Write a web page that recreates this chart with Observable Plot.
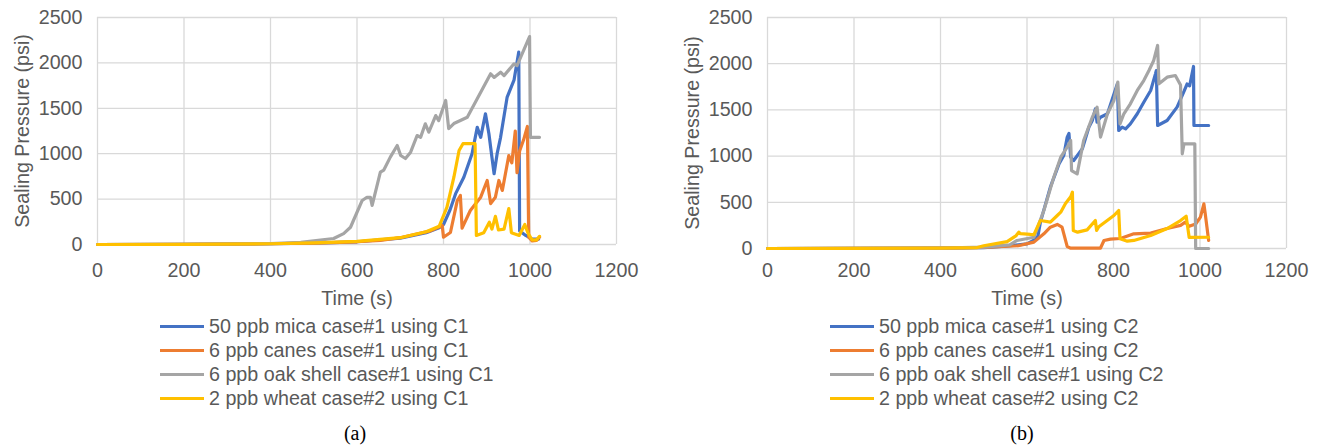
<!DOCTYPE html>
<html><head><meta charset="utf-8">
<script src="https://cdn.jsdelivr.net/npm/d3@7"></script>
<script src="https://cdn.jsdelivr.net/npm/@observablehq/plot@0.6"></script>
<style>
body{margin:0;background:#fff;width:1322px;height:447px;overflow:hidden;position:relative;font-family:"Liberation Sans",Arial,sans-serif;color:#595959}
.panel{position:absolute;top:0}
.row{position:absolute;height:24px;line-height:24px;font-size:19.7px;white-space:nowrap;color:#595959}
.swatch{position:absolute;height:3px;width:44px}
.cap{position:absolute;font-family:"Liberation Serif","Times New Roman",serif;font-size:20px;color:#000;transform:translate(-50%,-50%)}
</style></head><body>
<div id="a" class="panel" style="left:0px"></div>
<div id="b" class="panel" style="left:661px"></div>
<script>
// ---- tick values ----
const xTicks = [0, 200, 400, 600, 800, 1000, 1200];
const yTicks = [0, 500, 1000, 1500, 2000, 2500];

// ---- series names / colours ----
const seriesMaterials = ["50 ppb mica case#1", "6 ppb canes case#1", "6 ppb oak shell case#1", "2 ppb wheat case#2"];
const seriesColors = ["#4472C4", "#ED7D31", "#A5A5A5", "#FFC000"];

// ---- panel (a): C1, [time s, pressure psi] ----
const micaC1 = [[0,0],[200,2],[400,8],[500,15],[600,30],[700,70],[760,130],[790,185],[800,220],[815,380],[828,560],[847,740],[866,1000],[878,1290],[886,1180],[897,1440],[905,1220],[912,960],[917,780],[924,1000],[932,1180],[947,1620],[963,1810],[974,2120],[976,150],[990,100],[1005,60],[1020,60]];
const canesC1 = [[0,0],[200,2],[400,8],[500,15],[600,30],[654,44],[700,75],[770,150],[797,210],[800,80],[816,132],[832,485],[839,540],[843,180],[862,374],[886,521],[901,705],[909,451],[920,521],[928,705],[936,595],[951,980],[958,900],[966,1250],[970,790],[976,1030],[985,1150],[994,1300],[997,80],[1005,40],[1015,45],[1022,80]];
const oakC1 = [[0,0],[200,3],[400,10],[470,25],[546,66],[569,120],[585,190],[612,485],[623,520],[631,520],[635,430],[654,796],[662,820],[677,962],[693,1090],[701,980],[712,947],[724,1017],[739,1200],[747,1180],[758,1329],[766,1237],[782,1420],[789,1365],[805,1586],[812,1277],[824,1332],[839,1366],[855,1402],[909,1880],[917,1840],[932,1898],[940,1860],[963,1990],[970,1970],[999,2290],[1001,1180],[1022,1180]];
const wheatC1 = [[0,0],[200,2],[400,8],[500,18],[600,35],[700,75],[760,140],[790,200],[808,411],[824,741],[836,1035],[845,1110],[873,1110],[876,100],[893,130],[906,245],[912,170],[920,310],[927,160],[940,170],[951,395],[957,130],[975,100],[988,220],[995,130],[1005,50],[1015,50],[1022,90]];

// ---- panel (b): C2, [time s, pressure psi] ----
const micaC2 = [[0,0],[200,1],[400,4],[500,10],[550,25],[600,50],[616,90],[625,130],[631,285],[654,664],[674,916],[685,1006],[693,1205],[697,1245],[701,988],[708,952],[728,1079],[743,1313],[751,1385],[758,1512],[762,1367],[770,1421],[786,1458],[809,1782],[812,1277],[820,1313],[828,1295],[839,1349],[855,1458],[870,1583],[886,1710],[897,1890],[899,1926],[902,1331],[924,1385],[947,1530],[963,1700],[970,1780],[976,1760],[985,1970],[986,1331],[1020,1331]];
const canesC2 = [[0,0],[200,1],[400,4],[500,12],[580,30],[616,69],[639,159],[654,231],[670,260],[681,231],[693,20],[700,5],[770,5],[778,87],[793,101],[816,108],[847,159],[886,166],[924,216],[955,250],[966,285],[975,240],[990,265],[1001,340],[1009,483],[1012,380],[1020,87]];
const oakC2 = [[0,0],[200,1],[400,5],[500,15],[560,40],[577,87],[616,122],[639,411],[662,772],[678,988],[693,1096],[701,1169],[703,844],[716,808],[731,1169],[751,1421],[762,1529],[770,1205],[786,1458],[801,1602],[810,1800],[815,1349],[824,1458],[839,1566],[855,1710],[870,1818],[882,1926],[893,2035],[902,2197],[905,1782],[924,1854],[943,1872],[955,1770],[959,1025],[963,1133],[988,1133],[990,0],[1020,0]];
const wheatC2 = [[0,0],[200,2],[400,5],[485,10],[500,30],[554,75],[575,140],[581,177],[585,160],[608,152],[616,151],[631,303],[654,285],[670,357],[678,393],[689,487],[701,560],[705,610],[707,195],[717,177],[739,202],[758,303],[761,195],[766,235],[801,357],[812,411],[815,105],[832,79],[847,87],[886,140],[924,216],[955,303],[968,350],[975,120],[1020,122]];

function panel(el, cfg) {
  const W = 661, H = 310;
  const marks = [
    Plot.gridX(xTicks, {stroke: "#d9d9d9", strokeOpacity: 1, strokeWidth: 1.3}),
    Plot.gridY(yTicks, {stroke: "#d9d9d9", strokeOpacity: 1, strokeWidth: 1.3}),
    Plot.axisX(xTicks, {tickSize: 0, tickPadding: cfg.xPad, tickFormat: d => String(d), label: null}),
    Plot.axisY(yTicks, {tickSize: 0, tickPadding: 15, tickFormat: d => String(d), label: null}),
    Plot.text(["Time (s)"], {frameAnchor: "bottom", dy: cfg.titleDy, lineAnchor: "middle", textAnchor: "middle", text: d => d}),
    Plot.text(["Sealing Pressure (psi)"], {frameAnchor: "left", dx: -75, rotate: -90, lineAnchor: "middle", textAnchor: "middle", text: d => d})
  ];
  cfg.series.forEach((s, i) => {
    marks.push(Plot.line(s, {x: d => d[0], y: d => d[1], stroke: seriesColors[i], strokeWidth: 3.2, strokeLinejoin: "round", strokeLinecap: "round"}));
  });
  const chart = Plot.plot({
    width: W, height: H,
    marginLeft: cfg.left, marginRight: W - cfg.right, marginTop: 17, marginBottom: H - cfg.bottom,
    x: {domain: [0, 1200]},
    y: {domain: [0, 2500]},
    style: {fontFamily: '"Liberation Sans", Arial, sans-serif', fontSize: "19.7px", color: "#595959", background: "transparent", overflow: "visible"},
    marks
  });
  el.appendChild(chart);
  // legend
  seriesMaterials.forEach((name, i) => {
    const row = document.createElement("div");
    row.className = "row";
    row.style.left = cfg.legX + "px";
    row.style.top = (314 + 24 * i) + "px";
    row.style.width = "400px";
    const sw = document.createElement("div");
    sw.className = "swatch";
    sw.style.background = seriesColors[i];
    sw.style.left = "0px";
    sw.style.top = "11px";
    const tx = document.createElement("span");
    tx.style.position = "absolute";
    tx.style.left = "49px";
    tx.textContent = name + " using " + cfg.cond;
    row.appendChild(sw); row.appendChild(tx);
    el.appendChild(row);
  });
  const cap = document.createElement("div");
  cap.className = "cap";
  cap.style.left = cfg.capX + "px";
  cap.style.top = "433px";
  cap.textContent = cfg.caption;
  el.appendChild(cap);
}

panel(document.getElementById("a"), {left: 97, right: 616, bottom: 244, xPad: 18, titleDy: 54, legX: 160, capX: 355, caption: "(a)", cond: "C1", series: [micaC1, canesC1, oakC1, wheatC1]});
panel(document.getElementById("b"), {left: 106, right: 625, bottom: 248, xPad: 14, titleDy: 50, legX: 169, capX: 361, caption: "(b)", cond: "C2", series: [micaC2, canesC2, oakC2, wheatC2]});
</script>
</body></html>
